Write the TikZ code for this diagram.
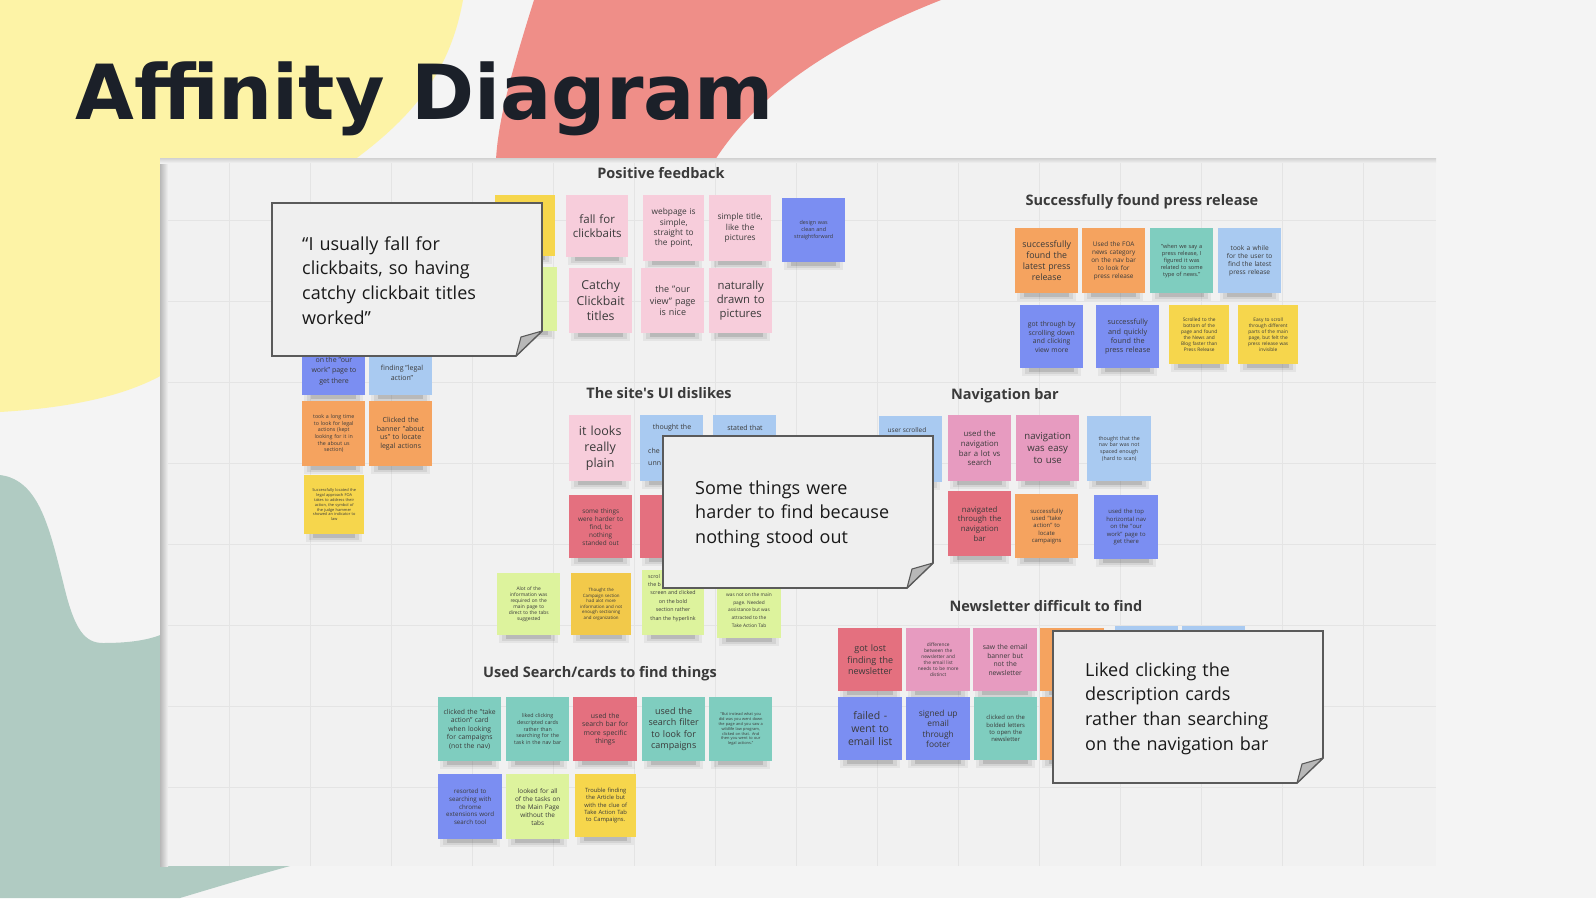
\documentclass[tikz,border=0pt]{standalone}
\usepackage{fontspec}
\setmainfont{Open Sans}
\newfontfamily\titlefont{DejaVu Sans}
\definecolor{bgc}{HTML}{F4F4F4}
\definecolor{blobyellow}{HTML}{FDF3A6}
\definecolor{blobpink}{HTML}{EF8E88}
\definecolor{blobgreen}{HTML}{B0CBC2}
\definecolor{boardc}{HTML}{F1F1F1}
\definecolor{gridc}{HTML}{E4E4E4}
\definecolor{titlec}{HTML}{1B2029}
\definecolor{sectext}{HTML}{3A3A3A}
\definecolor{notetext}{HTML}{3A3A3A}
\definecolor{callfill}{HTML}{EFEFEF}
\definecolor{calldraw}{HTML}{5A5A5A}
\definecolor{foldc}{HTML}{B8B8B8}
\definecolor{pinkn}{HTML}{F7CDDB}
\definecolor{bluen}{HTML}{7B8EF2}
\definecolor{lbluen}{HTML}{A9CAF1}
\definecolor{orangen}{HTML}{F5A35F}
\definecolor{tealn}{HTML}{7FCDBF}
\definecolor{yellown}{HTML}{F6D64C}
\definecolor{yellow2n}{HTML}{F2C94A}
\definecolor{greenn}{HTML}{DDF39D}
\definecolor{redn}{HTML}{E4707F}
\definecolor{magn}{HTML}{E79BC0}
\tikzset{
  stickybox/.style={inner sep=2pt, text width=56pt, align=center, text=notetext},
  fragtext/.style={inner sep=0pt, align=center, text=notetext},
  sectitle/.style={font=\fontsize{14.5}{17}\selectfont\bfseries, text=sectext, inner sep=0pt},
  callouttext/.style={font=\fontsize{18}{24.8}\selectfont, text=black!90, anchor=base west, inner sep=0pt, text width=235pt, align=left},
  calloutbox/.style={fill=callfill, draw=calldraw, line width=1.6pt, line join=miter},
  foldshape/.style={fill=foldc, draw=calldraw, line width=1.1pt, line join=round},
}
\newcommand\stick[8]{%
  \fill[black,opacity=0.05] (#2+2,#3+#5-4) rectangle (#2+#4-2,#3+#5+8);
  \fill[black,opacity=0.07] (#2+5,#3+#5-3) rectangle (#2+#4-5,#3+#5+6);
  \fill[black,opacity=0.12] (#2+9,#3+#5-2) rectangle (#2+#4-9,#3+#5+4);
  \node[stickybox, fill=#6, minimum width=#4, minimum height=#5, anchor=north west,
        font=\fontsize{#7}{\dimexpr#7pt*5/4\relax}\selectfont] (#1) at (#2,#3) {#8};}
\newcommand\callout[5]{%
  \draw[calloutbox] (#2,#3) -- (#4,#3) -- (#4,#5-25) -- (#4-26,#5) -- (#2,#5) -- cycle;
  \draw[foldshape] (#4,#5-25) -- (#4-21,#5-19) -- (#4-26,#5) -- cycle;
  \coordinate (#1) at (#2,#3);}
\begin{document}
\begin{tikzpicture}[x=1pt,y=-1pt]
\useasboundingbox (0,0) rectangle (1596,898);
% background and blobs
\fill[bgc] (0,0) rectangle (1596,898);
\fill[blobyellow] (0,0) -- (463,0) .. controls (445,100) and (380,150) .. (260,220)
   .. controls (230,330) and (200,400) .. (0,412) -- cycle;
\fill[blobpink] (534,0) -- (941,0) .. controls (840,40) and (760,90) .. (715,160)
   -- (715,200) -- (496,200) -- (496,160) .. controls (498,120) and (512,70) .. (534,0) -- cycle;
\fill[blobgreen] (0,475) .. controls (40,480) and (50,530) .. (65,590)
   .. controls (75,630) and (85,643) .. (103,643) .. controls (130,643) and (150,640) .. (165,633)
   -- (290,866) .. controls (240,880) .. (180,898) -- (0,898) -- cycle;
% board
\fill[boardc] (160,158) rectangle (1436,866);
\shade[left color=black!28, right color=boardc] (160,158) rectangle (168,866);
\shade[top color=black!18, bottom color=boardc] (160,158) rectangle (1436,163);
\foreach \gx in {229,310,...,1363} \draw[gridc, line width=0.9pt] (\gx,163) -- (\gx,866);
\foreach \gy in {220,301,...,787} \draw[gridc, line width=0.9pt] (168,\gy) -- (1436,\gy);
% section titles
\node[sectitle] (t1) at (661,173) {Positive feedback};
\node[sectitle] (t2) at (1142,202) {Successfully found press release};
\node[sectitle] (t3) at (659,393) {The site\textquotesingle s UI dislikes};
\node[sectitle] (t4) at (1005,396) {Navigation bar};
\node[sectitle] (t5) at (1046,606) {Newsletter difficult to find};
\node[sectitle] (t6) at (600,674) {Used Search/cards to find things};
% top-left cluster
\stick{tl1}{302}{332}{63}{63}{bluen}{7}{}
\node[fragtext, font=\fontsize{7}{10.5}\selectfont] (tl1t) at (334,371) {on the "our\\work" page to\\get there};
\stick{tl2}{369}{332}{63}{63}{lbluen}{7}{}
\node[fragtext, font=\fontsize{7}{10.5}\selectfont] (tl2t) at (402,373) {finding "legal\\action"};
\stick{tl3}{302}{401}{63}{65}{orangen}{5.3}{took a long time\\to look for legal\\actions (kept\\looking for it in\\the about us\\section)}
\stick{tl4}{369}{401}{63}{65}{orangen}{7}{Clicked the\\banner "about\\us" to locate\\legal actions}
\stick{tl5}{304}{475}{60}{59}{yellown}{3.9}{Successfully located the\\legal approach FOA\\takes to address their\\action, the symbol of\\the judge hammer\\showed an indicator to\\law}
% positive feedback
\stick{pf0}{495}{195}{59}{61}{yellown}{6}{}
\stick{pf00}{495}{267}{62}{64}{greenn}{6}{}
\stick{pf1}{566}{195}{62}{62}{pinkn}{11.5}{fall for\\clickbaits}
\stick{pf2}{643}{195}{61}{66}{pinkn}{8.3}{webpage is\\simple,\\straight to\\the point,}
\stick{pf3}{709}{195}{62}{66}{pinkn}{8.3}{simple title,\\like the\\pictures}
\stick{pf4}{782}{198}{63}{64}{bluen}{5.4}{design was\\clean and\\straightforward}
\stick{pf5}{569}{268}{63}{65}{pinkn}{12.3}{Catchy\\Clickbait\\titles}
\stick{pf6}{641}{268}{63}{65}{pinkn}{9}{the "our\\view" page\\is nice}
\stick{pf7}{709}{268}{63}{65}{pinkn}{11.3}{naturally\\drawn to\\pictures}
% press release
\stick{pr1}{1015}{228}{63}{65}{orangen}{8.8}{successfully\\found the\\latest press\\release}
\stick{pr2}{1082}{228}{63}{65}{orangen}{6.4}{Used the FOA\\news category\\on the nav bar\\to look for\\press release}
\stick{pr3}{1150}{228}{63}{65}{tealn}{5.6}{"when we say a\\press release, I\\figured it was\\related to some\\type of news."}
\stick{pr4}{1218}{228}{63}{65}{lbluen}{6.6}{took a while\\for the user to\\find the latest\\press release}
\stick{pr5}{1020}{305}{63}{63}{bluen}{6.8}{got through by\\scrolling down\\and clicking\\view more}
\stick{pr6}{1096}{305}{63}{63}{bluen}{7.3}{successfully\\and quickly\\found the\\press release}
\stick{pr7}{1169}{305}{60}{59}{yellown}{4.8}{Scrolled to the\\bottom of the\\page and found\\the News and\\Blog faster than\\Press Release}
\stick{pr8}{1238}{305}{60}{59}{yellown}{4.8}{Easy to scroll\\through different\\parts of the main\\page, but felt the\\press release was\\invisible}
% UI dislikes
\stick{ui1}{569}{415}{62}{66}{pinkn}{12.5}{it looks\\really\\plain}
\stick{ui2}{640}{415}{63}{66}{lbluen}{7}{}
\node[fragtext, font=\fontsize{7}{10}\selectfont] (ui2t) at (672,428) {thought the};
\node[fragtext, font=\fontsize{7}{11.5}\selectfont, anchor=north west, align=left] (ui2f) at (648,448) {che\\unn};
\stick{ui3}{713}{415}{63}{63}{lbluen}{7}{}
\node[fragtext, font=\fontsize{7}{10}\selectfont] (ui3t) at (745,428) {stated that};
\stick{ui4}{569}{495}{63}{63}{redn}{6.4}{some things\\were harder to\\find, bc\\nothing\\standed out}
\stick{ui5}{640}{495}{63}{63}{redn}{5}{}
\stick{ui6}{497}{573}{63}{62}{greenn}{4.9}{Alot of the\\information was\\required on the\\main page to\\direct to the tabs\\suggested}
\stick{ui7}{571}{573}{60}{62}{yellow2n}{4.4}{Thought the\\Campaign section\\had alot more\\information and not\\enough sectioning\\and organization}
\stick{ui8}{642}{570}{62}{65}{greenn}{5.3}{}
\node[fragtext, font=\fontsize{5.3}{8.6}\selectfont] (ui8t) at (673,606) {screen and clicked\\on the bold\\section rather\\than the hyperlink};
\node[fragtext, font=\fontsize{5.3}{8.6}\selectfont, anchor=north west, align=left] (ui8f) at (648,574) {scrol\\the b};
\stick{ui9}{717}{570}{64}{68}{greenn}{4.8}{}
\node[fragtext, font=\fontsize{4.8}{7.8}\selectfont] (ui9t) at (749,610) {was not on the main\\page. Needed\\assistance but was\\attracted to the\\Take Action Tab};
% navigation bar
\stick{nb1}{879}{416}{63}{66}{lbluen}{7}{}
\node[fragtext, font=\fontsize{6.5}{9}\selectfont] (nb1t) at (907,430) {user scrolled};
\stick{nb2}{948}{415}{63}{66}{magn}{7.8}{used the\\navigation\\bar a lot vs\\search}
\stick{nb3}{1016}{415}{63}{66}{magn}{9.6}{navigation\\was easy\\to use}
\stick{nb4}{1087}{416}{64}{65}{lbluen}{5.3}{thought that the\\nav bar was not\\spaced enough\\(hard to scan)}
\stick{nb5}{948}{491}{63}{65}{redn}{7.8}{navigated\\through the\\navigation\\bar}
\stick{nb6}{1015}{494}{63}{64}{orangen}{5.9}{successfully\\used "take\\action" to\\locate\\campaigns}
\stick{nb7}{1094}{495}{64}{64}{bluen}{5.9}{used the top\\horizontal nav\\on the "our\\work" page to\\get there}
% newsletter
\stick{nl1}{838}{628}{64}{63}{redn}{9}{got lost\\finding the\\newsletter}
\stick{nl2}{906}{628}{64}{63}{magn}{4.8}{difference\\between the\\newsletter and\\the email list\\needs to be more\\distinct}
\stick{nl3}{973}{628}{64}{63}{magn}{6.8}{saw the email\\banner but\\not the\\newsletter}
\stick{nl4}{1040}{628}{64}{63}{orangen}{6}{}
\stick{nl5}{1115}{626}{63}{63}{lbluen}{6}{}
\stick{nl6}{1182}{626}{63}{63}{lbluen}{6}{}
\stick{nl7}{838}{697}{64}{63}{bluen}{10.5}{failed -\\went to\\email list}
\stick{nl8}{906}{697}{64}{63}{bluen}{8.4}{signed up\\email\\through\\footer}
\stick{nl9}{974}{697}{63}{63}{tealn}{5.9}{clicked on the\\bolded letters\\to open the\\newsletter}
\stick{nl10}{1040}{697}{64}{63}{orangen}{6}{}
% used search
\stick{us1}{438}{697}{63}{64}{tealn}{6.8}{clicked the "take\\action" card\\when looking\\for campaigns\\(not the nav)}
\stick{us2}{506}{697}{63}{64}{tealn}{5.3}{liked clicking\\descripted cards\\rather than\\searching for the\\task in the nav bar}
\stick{us3}{573}{697}{64}{64}{redn}{6.9}{used the\\search bar for\\more specific\\things}
\stick{us4}{642}{697}{63}{64}{tealn}{9}{used the\\search filter\\to look for\\campaigns}
\stick{us5}{709}{697}{63}{64}{tealn}{3.9}{"But instead what you\\did was you went down\\the page and you saw a\\wildlife law program,\\clicked on that. And\\then you went to our\\legal actions."}
\stick{us6}{438}{774}{64}{65}{bluen}{6.2}{resorted to\\searching with\\chrome\\extensions word\\search tool}
\stick{us7}{506}{774}{63}{65}{greenn}{6.4}{looked for all\\of the tasks on\\the Main Page\\without the\\tabs}
\stick{us8}{575}{774}{61}{63}{yellown}{5.8}{Trouble finding\\the Article but\\with the clue of\\Take Action Tab\\to Campaigns.}
% callouts
\callout{c1}{272}{203}{542}{356}
\node[callouttext] (c1t) at (302,250) {“I usually fall for\\clickbaits, so having\\catchy clickbait titles\\worked”};
\callout{c2}{663}{436}{933}{588}
\node[callouttext] (c2t) at (695,494) {Some things were\\harder to find because\\nothing stood out};
\callout{c3}{1053}{631}{1323}{783}
\node[callouttext] (c3t) at (1085,676) {Liked clicking the\\description cards\\rather than searching\\on the navigation bar};
% title
\node[anchor=base west, inner sep=0pt, text=titlec,
      font=\titlefont\fontsize{76}{80}\selectfont\bfseries] (title) at (75,119) {Affinity Diagram};
\end{tikzpicture}
\end{document}
